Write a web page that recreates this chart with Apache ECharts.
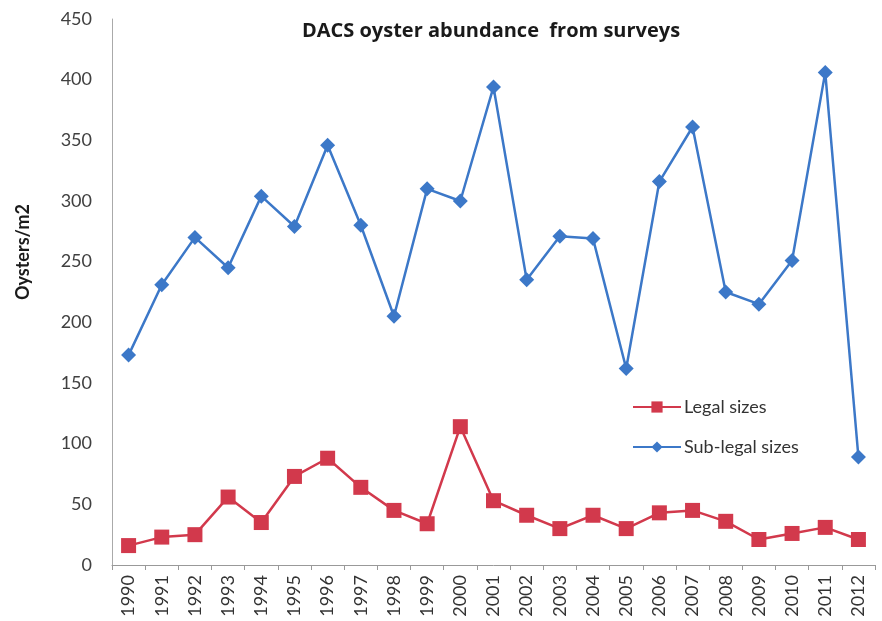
<!DOCTYPE html>
<html>
<head>
<meta charset="utf-8">
<script src="https://cdn.jsdelivr.net/npm/echarts@6/dist/echarts.min.js"></script>
<style>
    html, body { margin: 0; padding: 0; background: #fff; }
    #chart1 { width: 882px; height: 621px; }
</style>
</head>
<body>
<div id="chart1"></div>
<script>
    var years = ['1990', '1991', '1992', '1993', '1994', '1995', '1996', '1997', '1998', '1999', '2000',
        '2001', '2002', '2003', '2004', '2005', '2006', '2007', '2008', '2009', '2010', '2011', '2012'];
    var legalSizes = [16, 23, 25, 56, 35, 73, 88, 64, 45, 34, 114, 53, 41, 30, 41, 30, 43, 45, 36, 21, 26, 31, 21];
    var subLegalSizes = [173, 231, 270, 245, 304, 279, 346, 280, 205, 310, 300, 394, 235, 271, 269, 162, 316, 361, 225, 215, 251, 406, 89];

    var font = 'Lato, "Open Sans", sans-serif';
    var chart1 = echarts.init(document.getElementById('chart1'));

    var option = {
        backgroundColor: '#fff',
        animation: false,
        title: {
            text: 'DACS oyster abundance  from surveys',
            left: 486,
            top: 16,
            textAlign: 'center',
            textStyle: {fontFamily: '"Open Sans", sans-serif', fontSize: 20, fontWeight: 'bold', color: '#1a1a1a'}
        },
        legend: {
            orient: 'vertical',
            left: 627,
            top: 393,
            itemGap: 22,
            itemWidth: 48,
            itemHeight: 14,
            textStyle: {fontFamily: font, fontSize: 18, color: '#333', padding: [0, 0, 0, -2]},
            data: ['Legal sizes', 'Sub-legal sizes']
        },
        grid: {
            left: 112,
            right: 7,
            top: 19,
            bottom: 56
        },
        xAxis: {
            type: 'category',
            data: years,
            boundaryGap: true,
            axisLine: {lineStyle: {color: '#999'}},
            axisTick: {show: true, length: 5, lineStyle: {color: '#999'}},
            axisLabel: {rotate: 90, fontFamily: font, fontSize: 18, color: '#333', margin: 10},
            splitLine: {show: false}
        },
        yAxis: {
            type: 'value',
            min: 0,
            max: 450,
            interval: 50,
            name: 'Oysters/m2',
            nameLocation: 'middle',
            nameGap: 80,
            nameTextStyle: {fontFamily: font, fontSize: 18, fontWeight: 'bold', color: '#1a1a1a', padding: [0, 0, 0, 80]},
            axisLine: {show: true, lineStyle: {color: '#aaa'}},
            axisTick: {show: false},
            axisLabel: {fontFamily: font, fontSize: 18, color: '#404040', margin: 20},
            splitLine: {show: false}
        },
        series: [
            {
                name: 'Legal sizes',
                type: 'line',
                data: legalSizes,
                symbol: 'rect',
                symbolSize: 15,
                color: '#d2394c',
                lineStyle: {width: 2.5, color: '#d2394c'},
                itemStyle: {color: '#d2394c'}
            },
            {
                name: 'Sub-legal sizes',
                type: 'line',
                data: subLegalSizes,
                symbol: 'diamond',
                symbolSize: 15,
                color: '#3c78c8',
                lineStyle: {width: 2.5, color: '#3c78c8'},
                itemStyle: {color: '#3c78c8'}
            }
        ]
    };

    chart1.setOption(option);
    window.addEventListener('resize', function () {
        chart1.resize();
    });
</script>
</body>
</html>
